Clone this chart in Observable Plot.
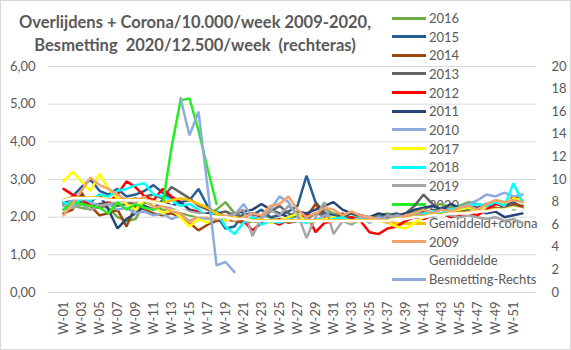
<!DOCTYPE html>
<html>
<head>
<meta charset="utf-8">
<script src="https://cdn.jsdelivr.net/npm/d3@7"></script>
<script src="https://cdn.jsdelivr.net/npm/@observablehq/plot@0.6"></script>
<style>
  html, body { margin: 0; padding: 0; background: #fff; }
  #chart { position: relative; width: 571px; height: 350px; overflow: hidden; font-family: "Lato", sans-serif; color: #595959; }
  #frame { position: absolute; left: 0; top: 0; width: 571px; height: 350px; box-sizing: border-box; border: 1px solid #d9d9d9; pointer-events: none; z-index: 3; }
  #title { position: absolute; left: 0; top: 11px; width: 390px; text-align: center; font-weight: bold; font-size: 16.5px; line-height: 23px; white-space: pre; z-index: 2; }
  #legend { position: absolute; left: 0; top: 0; width: 571px; height: 350px; z-index: 0; font-size: 13px; }
  .entry { position: absolute; left: 392px; height: 18px; display: flex; align-items: center; }
  .entry .sw { width: 34px; height: 3px; margin-right: 3px; }
  #plot { position: absolute; left: 0; top: 58px; z-index: 1; }
</style>
</head>
<body>
<div id="chart">
  <div id="legend"></div>
  <div id="title"></div>
  <div id="plot"></div>
  <div id="frame"></div>
</div>
<script>
// ---- Texts ----
const titleLines = ["Overlijdens + Corona/10.000/week 2009-2020,", "Besmetting  2020/12.500/week  (rechteras)"];

// ---- Categories / ticks ----
const weeks = d3.range(1, 53).map(i => "W-" + String(i).padStart(2, "0"));
const xTickLabels = weeks.filter((w, i) => i % 2 === 0);
const leftTicks = [0, 1, 2, 3, 4, 5, 6];
const rightTicks = [0, 2, 4, 6, 8, 10, 12, 14, 16, 18, 20];

// ---- Series values (left axis, per week) ----
const y2016 = [2.2,2.3,2.25,2.2,2.3,2.25,2.0,1.9,1.95,2.4,2.3,2.2,2.15,2.1,2.05,2.0,2.1,2.2,2.4,2.1,2.0,1.9,2.05,2.0,1.85,1.95,2.05,2.0,2.1,2.2,2.1,2.05,2.1,1.95,2.0,2.05,2.1,2.0,2.05,2.15,2.2,2.3,2.35,2.25,2.3,2.4,2.35,2.3,2.45,2.4,2.2,2.3];
const y2015 = [2.4,2.55,2.8,3.0,2.7,2.6,2.75,2.55,2.6,2.7,2.85,2.65,2.5,2.4,2.45,2.75,2.3,2.05,1.7,1.75,2.1,2.05,2.2,2.0,2.05,2.15,2.3,3.1,2.4,2.1,2.05,2.0,2.1,2.05,1.95,2.0,2.05,2.1,2.0,2.05,2.2,2.1,2.25,2.15,2.2,2.3,2.25,2.35,2.2,2.3,2.4,2.25];
const y2014 = [2.1,2.2,2.65,2.3,2.05,2.1,2.2,1.75,2.3,2.2,2.1,2.05,2.1,2.0,1.85,1.65,1.8,1.9,1.95,1.9,1.85,1.9,1.85,1.9,1.95,1.85,1.9,2.0,2.35,2.0,1.95,2.1,1.9,2.0,1.95,1.9,2.0,2.05,2.1,2.0,2.15,2.1,2.05,2.2,2.1,2.25,2.2,2.3,2.25,2.2,2.35,2.3];
const y2013 = [2.35,2.5,2.4,2.3,2.35,2.4,2.3,2.35,2.4,2.55,2.6,2.5,2.8,2.65,2.5,2.3,2.2,2.1,2.15,2.05,2.0,2.1,2.0,2.15,2.3,2.1,2.0,1.95,2.1,2.05,2.0,1.95,2.0,1.9,2.0,1.95,2.05,2.0,2.1,2.3,2.6,2.35,2.2,2.1,2.15,2.2,2.25,2.3,2.2,2.25,2.3,2.2];
const y2012 = [2.75,2.6,2.5,2.3,2.25,2.4,2.6,2.95,2.8,2.55,2.45,2.75,2.55,2.4,2.2,2.15,2.05,2.1,1.95,2.0,1.9,1.65,1.85,1.9,1.8,1.95,1.9,2.1,1.6,1.85,1.9,1.95,2.0,1.9,1.6,1.55,1.7,1.75,1.9,2.0,1.95,2.05,2.1,2.0,2.05,2.1,2.05,2.2,2.35,2.3,2.55,2.45];
const y2011 = [2.45,2.3,2.55,2.4,2.6,2.2,1.7,1.95,2.1,2.3,2.2,2.45,2.3,2.4,2.2,2.05,2.1,2.15,2.0,2.1,2.15,2.2,2.35,2.2,2.1,2.0,2.15,2.1,2.2,2.3,2.4,2.2,2.1,2.05,2.0,2.1,2.05,2.0,2.1,2.2,2.25,2.3,2.2,2.35,2.25,2.3,2.2,2.1,2.15,2.0,2.05,2.1];
const y2010 = [2.3,2.45,2.5,2.4,2.3,2.35,2.2,2.25,2.1,2.15,2.05,2.1,1.95,2.05,1.9,2.0,1.95,2.0,1.9,2.05,2.35,2.0,1.95,2.2,2.55,2.4,2.0,1.95,1.9,2.05,2.0,1.95,1.9,2.0,1.85,2.0,1.95,2.05,2.0,2.1,2.0,2.15,2.1,2.2,2.25,2.35,2.45,2.6,2.55,2.65,2.55,2.6];
const y2017 = [2.95,3.2,2.95,2.7,3.15,2.75,2.5,2.35,2.2,2.45,2.3,2.1,2.2,2.0,1.75,1.95,1.85,2.05,1.9,2.0,1.95,1.9,1.95,1.85,1.9,2.0,2.1,1.85,1.9,1.95,2.0,1.9,1.85,1.9,1.95,1.9,1.85,1.75,1.7,1.85,2.0,2.1,2.05,2.15,2.2,2.25,2.2,2.3,2.45,2.35,2.5,2.45];
const y2018 = [2.4,2.3,2.5,2.45,2.6,2.55,2.7,2.75,2.85,2.9,2.6,2.55,2.45,2.3,2.35,2.2,2.0,2.15,1.75,1.55,1.85,2.0,1.8,1.9,1.85,1.95,1.9,1.85,1.95,1.9,1.95,2.0,1.9,1.95,2.0,1.95,1.9,2.0,1.95,2.05,2.1,2.15,2.1,2.2,2.25,2.3,2.35,2.3,2.4,2.3,2.9,2.4];
const y2019 = [2.3,2.25,2.35,2.2,2.3,2.35,2.4,2.45,2.5,2.45,2.4,2.3,2.25,2.2,2.15,2.1,2.05,1.95,2.0,2.1,2.2,1.5,2.0,2.2,2.05,2.3,2.1,1.45,2.0,2.4,1.55,1.9,1.8,1.95,2.0,1.9,2.05,2.0,1.95,2.1,2.05,2.0,2.1,2.05,2.0,2.05,2.0,1.95,2.0,1.9,1.95,1.85];
const y2020 = [2.2,2.4,2.35,2.3,2.25,2.1,2.4,2.2,2.35,2.25,2.2,2.3,3.85,5.1,5.15,4.3,3.3,2.35];
const yGemCorona = [2.47,2.52,2.52,2.52,2.52,2.47,2.47,2.47,2.47,2.47,2.42,2.37,2.45,2.5,2.45,2.35,2.25,2.1,2.02,1.97,1.97,1.92,1.92,1.92,1.92,1.92,1.92,1.92,1.92,1.92,1.92,1.92,1.92,1.92,1.92,1.92,1.92,1.97,1.97,2.02,2.02,2.07,2.07,2.12,2.12,2.12,2.17,2.17,2.22,2.22,2.27,2.22];
const y2009 = [2.05,2.35,2.7,3.05,2.85,2.75,2.6,2.45,2.4,2.55,2.25,2.3,2.15,2.1,1.85,2.05,2.0,1.95,2.05,1.9,2.0,2.1,2.05,2.3,2.35,2.55,2.2,2.0,2.1,2.25,2.2,2.05,2.15,2.05,2.0,1.95,1.85,1.95,2.05,2.1,2.2,2.1,2.2,2.15,2.25,2.3,2.2,2.35,2.45,2.4,2.45,2.4];
const yGemiddelde = [2.45,2.5,2.5,2.5,2.5,2.45,2.45,2.45,2.45,2.45,2.4,2.35,2.3,2.2,2.1,2.05,2.05,2.0,2.0,1.95,1.95,1.9,1.9,1.9,1.9,1.9,1.9,1.9,1.9,1.9,1.9,1.9,1.9,1.9,1.9,1.9,1.9,1.95,1.95,2.0,2.0,2.05,2.05,2.1,2.1,2.1,2.15,2.15,2.2,2.2,2.25,2.2];
// ---- Besmetting (right axis 0-20), weeks W-14 .. W-20 ----
const besmettingStart = "W-14";
const yBesmetting = [17.2,13.9,16.0,9.4,2.4,2.7,1.8];

const leftMax = 6, rightMax = 20;

// ---- Series in legend / drawing order ----
const series = [
  {name: "2016", color: "#70AD47", values: y2016},
  {name: "2015", color: "#255E91", values: y2015},
  {name: "2014", color: "#9E480E", values: y2014},
  {name: "2013", color: "#636363", values: y2013},
  {name: "2012", color: "#FF0000", values: y2012},
  {name: "2011", color: "#264478", values: y2011},
  {name: "2010", color: "#8FAADC", values: y2010},
  {name: "2017", color: "#FFFF00", values: y2017},
  {name: "2018", color: "#00FFFF", values: y2018},
  {name: "2019", color: "#A5A5A5", values: y2019},
  {name: "2020", color: "#22EE22", values: y2020},
  {name: "Gemiddeld+corona", color: "#FFC000", values: yGemCorona},
  {name: "2009", color: "#F4A26C", values: y2009},
  {name: "Gemiddelde", color: "#FFFFFF", values: yGemiddelde},
  {name: "Besmetting-Rechts", color: "#8FAADC", values: yBesmetting, start: weeks.indexOf(besmettingStart), right: true}
];

const lineMarks = series.map(s => {
  const start = s.start || 0;
  const rows = s.values.map((v, i) => ({week: weeks[start + i], v}));
  return Plot.line(rows, {
    x: "week",
    y: s.right ? (d => d.v * leftMax / rightMax) : "v",
    stroke: s.color,
    strokeWidth: 2.5,
    strokeLinejoin: "miter"
  });
});

const plot = Plot.plot({
  width: 571,
  height: 292,
  marginLeft: 48,
  marginRight: 35,
  marginTop: 8,
  marginBottom: 58,
  style: {background: "transparent", fontFamily: "Lato, sans-serif", fontSize: "13px", color: "#595959", overflow: "visible"},
  x: {type: "point", domain: weeks, padding: 0.5, label: null},
  y: {domain: [0, leftMax], label: null},
  marks: [
    Plot.gridY(leftTicks, {stroke: "#d9d9d9", strokeOpacity: 1, strokeWidth: 1}),
    Plot.axisY(leftTicks, {anchor: "left", tickSize: 0, tickPadding: 13, label: null, tickFormat: d => d.toFixed(2).replace(".", ",")}),
    Plot.axisY(rightTicks, {anchor: "right", y: d => d * leftMax / rightMax, tickSize: 0, tickPadding: 15, label: null, tickFormat: d => String(d)}),
    Plot.axisX(xTickLabels, {anchor: "bottom", tickSize: 0, tickPadding: 9, tickRotate: -90, label: null}),
    ...lineMarks
  ]
});
document.getElementById("plot").appendChild(plot);

// ---- Title ----
document.getElementById("title").textContent = titleLines.join("\n");

// ---- Legend (drawn behind plot lines) ----
const legend = document.getElementById("legend");
series.forEach((s, i) => {
  const e = document.createElement("div");
  e.className = "entry";
  e.style.top = (9 + i * 18.65) + "px";
  const sw = document.createElement("span");
  sw.className = "sw";
  sw.style.background = s.color;
  const t = document.createElement("span");
  t.textContent = s.name;
  e.appendChild(sw); e.appendChild(t);
  legend.appendChild(e);
});
</script>
</body>
</html>
